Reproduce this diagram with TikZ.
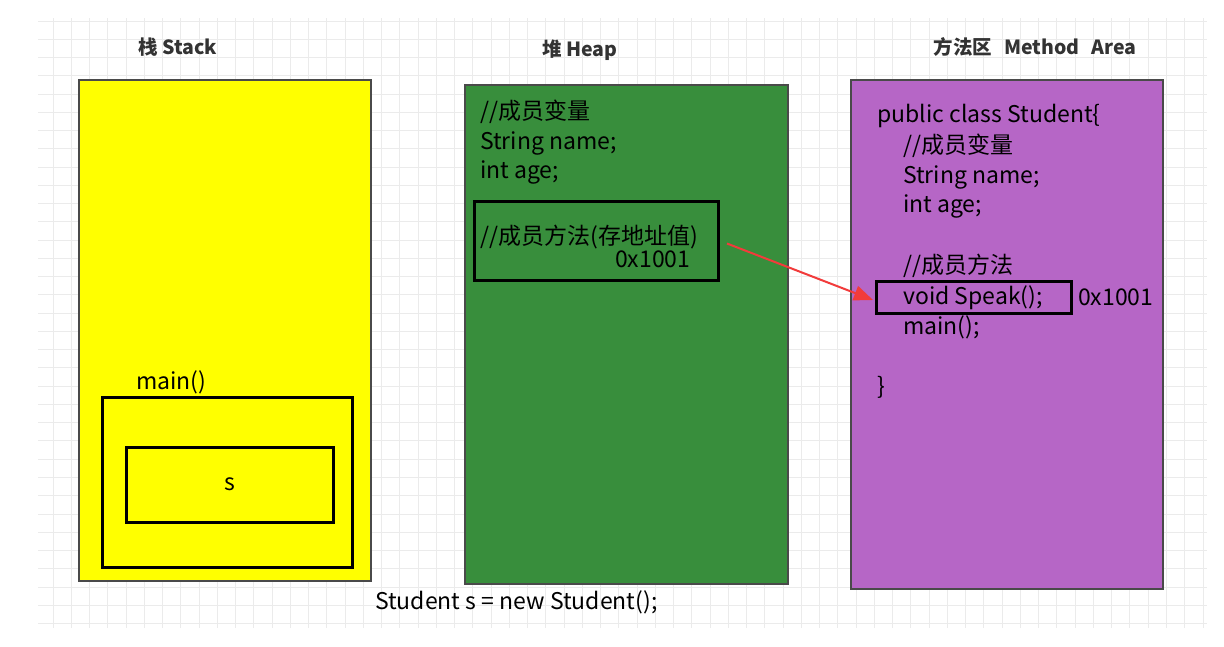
\documentclass[tikz,border=0pt]{standalone}
\usepackage{fontspec}
\setmainfont{Noto Sans CJK SC}
\usetikzlibrary{arrows.meta,calc}
\definecolor{stackyellow}{HTML}{FFFF00}
\definecolor{heapgreen}{HTML}{388E3C}
\definecolor{methodpurple}{HTML}{B666C6}
\definecolor{gridgray}{HTML}{EBEBEB}
\definecolor{framegray}{HTML}{4A4A4A}
\definecolor{titlegray}{HTML}{333333}
\definecolor{arrowred}{HTML}{F23B3B}
\begin{document}
\begin{tikzpicture}[x=1pt,y=-1pt,
  gridline/.style={draw=gridgray,line width=1pt},
  area/.style={draw=framegray,line width=2pt,anchor=north west,inner sep=0pt,outer sep=0pt},
  innerbox/.style={draw=black,line width=3pt,anchor=north west,inner sep=0pt,outer sep=0pt},
  titletext/.style={font=\bfseries\fontsize{19.5}{22}\selectfont,text=titlegray,inner sep=0pt},
  code/.style={font=\fontsize{23}{27}\selectfont,anchor=west,inner sep=0pt,text height=0.8em,text depth=0.08em,yshift=-4pt},
  ptr/.style={draw=arrowred,line width=2pt,-{Triangle[length=19pt,width=15pt]}},
]
\useasboundingbox (0,0) rectangle (1224,646);
\fill[white] (0,0) rectangle (1224,646);
% grid
\foreach \i in {0,...,63} \draw[gridline] (53+18.254*\i,18) -- (53+18.254*\i,628);
\foreach \j in {0,...,33} \draw[gridline] (38,21+18.26*\j) -- (1207,21+18.26*\j);
% titles
\node[titletext] (tstack) at (178,47) {栈 Stack};
\node[titletext] (theap) at (580,50) {堆 Heap};
\node[titletext] (tmethod) at (1035,47) {方法区\hspace{12pt}Method\hspace{12pt}Area};
% areas
\node[area,fill=stackyellow,minimum width=292pt,minimum height=501pt] (stack) at (79,80) {};
\node[area,fill=heapgreen,minimum width=323pt,minimum height=499pt] (heap) at (465,85) {};
\node[area,fill=methodpurple,minimum width=312pt,minimum height=509pt] (method) at (851,80) {};
% stack content
\node[code] (mainlbl) at (136,382) {main()};
\node[innerbox,minimum width=250pt,minimum height=170pt] (mainbox) at (102,397) {};
\node[innerbox,minimum width=207pt,minimum height=75pt] (sbox) at (126,447) {};
\node[code,anchor=center] (slbl) at (230,483) {s};
% heap content
\node[code] (h1) at (480,112) {//成员变量};
\node[code] (h2) at (480,142) {String name;};
\node[code] (h3) at (480,171) {int age;};
\node[innerbox,minimum width=244pt,minimum height=79pt] (heapm) at (474,201) {};
\node[code] (h4) at (480,237) {//成员方法(存地址值)};
\node[code] (h5) at (615,260) {0x1001};
% method area content
\node[code] (m1) at (877,115) {public class Student\{};
\node[code] (m2) at (903,146) {//成员变量};
\node[code] (m3) at (903,176) {String name;};
\node[code] (m4) at (903,205) {int age;};
\node[code] (m5) at (903,266) {//成员方法};
\node[innerbox,minimum width=195pt,minimum height=32pt] (speak) at (876,281) {};
\node[code] (m6) at (903,297) {void Speak();};
\node[code] (m7) at (903,327) {main();};
\node[code] (m8) at (877,387) {\}};
\node[code] (maddr) at (1078,298) {0x1001};
% bottom
\node[code] (newstmt) at (375,602) {Student s = new Student();};
% arrow
\draw[ptr] ($(heapm.east)+(9,3)$) -- ($(speak.west)+(-3,3)$);
\end{tikzpicture}
\end{document}
